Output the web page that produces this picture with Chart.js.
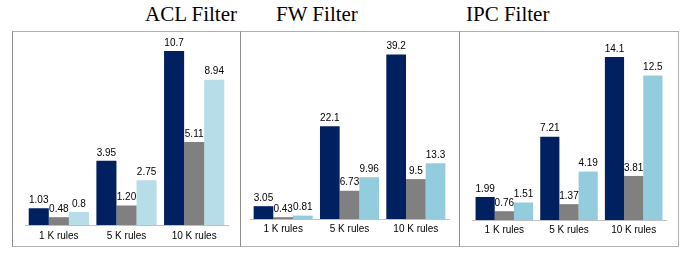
<!DOCTYPE html>
<html>
<head>
<meta charset="utf-8">
<script src="https://cdn.jsdelivr.net/npm/chart.js@4"></script>
<style>
  body { margin: 0; background: #fff; width: 689px; height: 253px; position: relative; overflow: hidden; }
  .title { position: absolute; top: 4px; font: 21px/21px "Liberation Serif", "Times New Roman", serif; color: #000; white-space: nowrap; }
  .panel { position: absolute; top: 31px; height: 214px; border-top: 1px solid #b0b0b0; border-bottom: 1px solid #b0b0b0; border-left: 1px solid #8c8c8c; }
  .panel canvas { display: block; position: absolute; left: 0; top: 0; }
</style>
</head>
<body>
<div class="title" style="left:145px">ACL Filter</div>
<div class="title" style="left:276px">FW Filter</div>
<div class="title" style="left:466px">IPC Filter</div>

<div class="panel" style="left:12px; width:228px"><canvas id="acl" width="228" height="216"></canvas></div>
<div class="panel" style="left:240px; width:219px"><canvas id="fw" width="219" height="214"></canvas></div>
<div class="panel" style="left:459px; width:218px; border-right:1px solid #b0b0b0"><canvas id="ipc" width="218" height="214"></canvas></div>

<script>
"use strict";

// data
const CATEGORIES = ["1 K rules", "5 K rules", "10 K rules"];

const ACL_A = ["1.03", "3.95", "10.7"];
const ACL_B = ["0.48", "1.20", "5.11"];
const ACL_C = ["0.8", "2.75", "8.94"];

const FW_A = ["3.05", "22.1", "39.2"];
const FW_B = ["0.43", "6.73", "9.5"];
const FW_C = ["0.81", "9.96", "13.3"];

const IPC_A = ["1.99", "7.21", "14.1"];
const IPC_B = ["0.76", "1.37", "3.81"];
const IPC_C = ["1.51", "4.19", "12.5"];

const NAVY = "#002060";
const GRAY = "#808080";

Chart.defaults.font.family = '"Liberation Sans", Arial, sans-serif';
Chart.defaults.color = "#000";


// values written above each bar
const barLabels = {
    id: "barLabels",
    afterDatasetsDraw(chart) {
        let ctx = chart.ctx;
        ctx.save();
        ctx.font = '10px "Liberation Sans", Arial, sans-serif';
        ctx.fillStyle = "#000";
        ctx.textAlign = "center";
        ctx.textBaseline = "bottom";
        chart.data.datasets.forEach(function(ds, i) {
            chart.getDatasetMeta(i).data.forEach(function(bar, j) {
                ctx.fillText(ds.data[j], bar.x, bar.y - 3);
            });
        });
        ctx.restore();
    }
};


function makePanel(id, a, b, c, light, yMax, pad, tickPad) {
    let ctx = document.getElementById(id).getContext("2d");
    return new Chart(ctx, {
        type: "bar",
        data: {
            labels: CATEGORIES,
            datasets: [
                { data: a, backgroundColor: NAVY },
                { data: b, backgroundColor: GRAY },
                { data: c, backgroundColor: light }
            ]
        },
        options: {
            responsive: false,
            animation: false,
            devicePixelRatio: 1,
            layout: { padding: pad },
            datasets: { bar: { categoryPercentage: 0.89, barPercentage: 1 } },
            plugins: { legend: { display: false }, tooltip: { enabled: false } },
            scales: {
                x: {
                    grid: { display: false, drawTicks: false },
                    border: { display: true, color: "#c0c0c0", width: 1 },
                    ticks: { padding: tickPad, font: { size: 10 } }
                },
                y: { display: false, min: 0, max: yMax }
            }
        },
        plugins: [barLabels]
    });
}

makePanel("acl", ACL_A, ACL_B, ACL_C, "#b7dee8", 11.32, { top: 9, left: 12, right: 13, bottom: 0 }, 5.5);
makePanel("fw", FW_A, FW_B, FW_C, "#93cddd", 42.4, { top: 9, left: 9, right: 11, bottom: 7 }, 4);
makePanel("ipc", IPC_A, IPC_B, IPC_C, "#93cddd", 15.48, { top: 9, left: 12, right: 12, bottom: 6 }, 4);
</script>
</body>
</html>
